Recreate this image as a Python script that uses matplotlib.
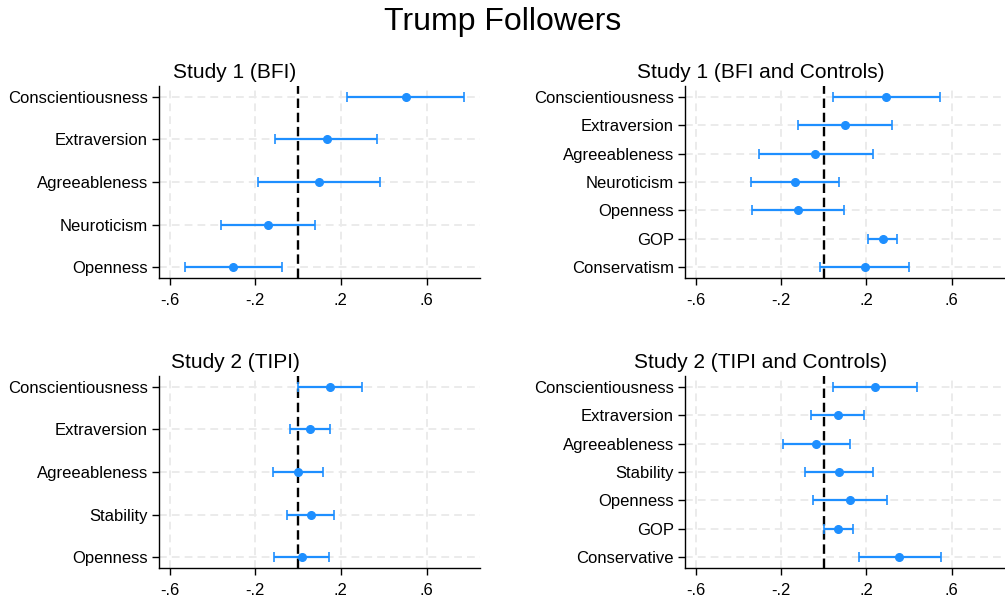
import matplotlib
matplotlib.use("Agg")
import matplotlib.pyplot as plt
import numpy as np

plt.rcParams['font.family'] = ['Liberation Sans', 'DejaVu Sans']

# Study 1 (BFI)
s1_labels = ['Conscientiousness', 'Extraversion', 'Agreeableness', 'Neuroticism', 'Openness']
s1_est = [0.502, 0.133, 0.096, -0.141, -0.302]
s1_lo = [0.230, -0.107, -0.188, -0.361, -0.528]
s1_hi = [0.774, 0.370, 0.381, 0.079, -0.076]

# Study 1 (BFI and Controls)
s1c_labels = ['Conscientiousness', 'Extraversion', 'Agreeableness', 'Neuroticism',
              'Openness', 'GOP', 'Conservatism']
s1c_est = [0.293, 0.100, -0.039, -0.134, -0.120, 0.276, 0.193]
s1c_lo = [0.042, -0.120, -0.304, -0.342, -0.337, 0.206, -0.017]
s1c_hi = [0.547, 0.320, 0.229, 0.072, 0.094, 0.346, 0.402]

# Study 2 (TIPI)
s2_labels = ['Conscientiousness', 'Extraversion', 'Agreeableness', 'Stability', 'Openness']
s2_est = [0.150, 0.055, 0.000, 0.058, 0.017]
s2_lo = [0.000, -0.040, -0.118, -0.053, -0.111]
s2_hi = [0.300, 0.150, 0.117, 0.170, 0.145]

# Study 2 (TIPI and Controls)
s2c_labels = ['Conscientiousness', 'Extraversion', 'Agreeableness', 'Stability',
              'Openness', 'GOP', 'Conservative']
s2c_est = [0.240, 0.065, -0.036, 0.072, 0.124, 0.067, 0.354]
s2c_lo = [0.042, -0.061, -0.192, -0.089, -0.051, 0.000, 0.164]
s2c_hi = [0.437, 0.190, 0.124, 0.232, 0.299, 0.136, 0.548]

xticks = [-0.6, -0.2, 0.2, 0.6]
xticklabels = ['-.6', '-.2', '.2', '.6']

W, H = 1005, 600
fig = plt.figure(figsize=(W / 100, H / 100), dpi=100)
fig.text(0.5, 1 - 22 / H, 'Trump Followers', ha='center', va='center', fontsize=23)

blue = '#1E8FFF'


def panel(rect, title, title_x, labels, est, lo, hi):
    ax = fig.add_axes([rect[0] / W, 1 - rect[3] / H, (rect[1] - rect[0]) / W, (rect[3] - rect[2]) / H])
    n = len(labels)
    y = np.arange(n)[::-1] + 1
    est = np.array(est)
    err = np.vstack([est - np.array(lo), np.array(hi) - est])
    for t in xticks:
        ax.axvline(t, color='#EBEBEB', lw=1.4, ls=(0, (4, 2.6)), zorder=0)
    for yy in y:
        ax.axhline(yy, color='#EBEBEB', lw=1.4, ls=(0, (4, 2.6)), zorder=0)
    ax.axvline(0, color='black', lw=1.7, ls=(0, (4, 2)), zorder=1)
    ax.errorbar(est, y, xerr=err, fmt='o', color=blue, ecolor=blue, elinewidth=1.6,
                capsize=3.5, capthick=1.2, markersize=5.5, zorder=3)
    pad = (n - 1) * 0.0625
    ax.set_ylim(1 - pad, n + pad)
    ax.set_xlim(-0.65, 0.85)
    ax.set_yticks(y)
    ax.set_yticklabels(labels, fontsize=12)
    ax.set_xticks(xticks)
    ax.set_xticklabels(xticklabels, fontsize=12)
    ax.tick_params(axis='both', length=5, width=1, pad=3)
    ax.tick_params(axis='x', pad=6)
    for s in ['top', 'right']:
        ax.spines[s].set_visible(False)
    for s in ['left', 'bottom']:
        ax.spines[s].set_linewidth(1)
    fig.text(title_x / W, 1 - (rect[2] - 14) / H, title, ha='center', va='center', fontsize=15)
    return ax


panel((159, 480, 86, 278), 'Study 1 (BFI)', 235, s1_labels, s1_est, s1_lo, s1_hi)
panel((685, 1005, 86, 278), 'Study 1 (BFI and Controls)', 761, s1c_labels, s1c_est, s1c_lo, s1c_hi)
panel((159, 480, 376, 568), 'Study 2 (TIPI)', 235, s2_labels, s2_est, s2_lo, s2_hi)
panel((685, 1005, 376, 568), 'Study 2 (TIPI and Controls)', 761, s2c_labels, s2c_est, s2c_lo, s2c_hi)

fig.savefig('out.png', dpi=100)
